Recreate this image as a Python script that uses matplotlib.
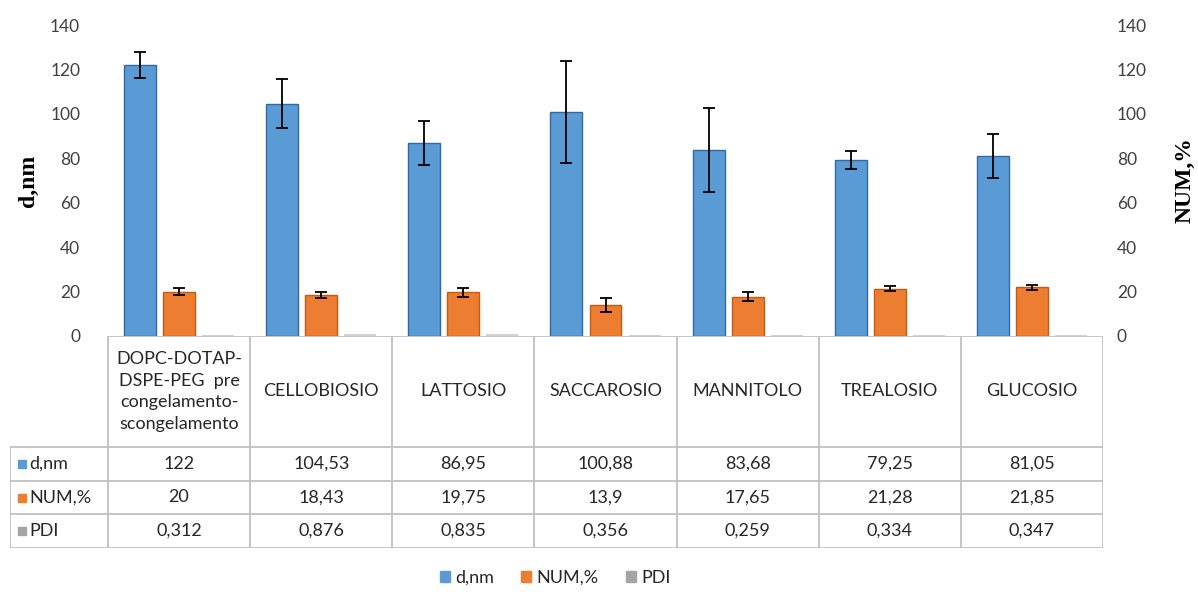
import matplotlib.pyplot as plt
from matplotlib.patches import Rectangle
import numpy as np

# data
categories = ["DOPC-DOTAP-\nDSPE-PEG  pre\ncongelamento-\nscongelamento",
              "CELLOBIOSIO", "LATTOSIO", "SACCAROSIO", "MANNITOLO", "TREALOSIO", "GLUCOSIO"]
d_nm = [122, 104.53, 86.95, 100.88, 83.68, 79.25, 81.05]
d_nm_err = [6, 11, 10, 23, 19, 4, 10]
num_pct = [20, 18.43, 19.75, 13.9, 17.65, 21.28, 21.85]
num_pct_err = [1.5, 1.3, 2, 3, 2, 1.2, 1]
pdi = [0.312, 0.876, 0.835, 0.356, 0.259, 0.334, 0.347]

d_nm_txt = ["122", "104,53", "86,95", "100,88", "83,68", "79,25", "81,05"]
num_txt = ["20", "18,43", "19,75", "13,9", "17,65", "21,28", "21,85"]
pdi_txt = ["0,312", "0,876", "0,835", "0,356", "0,259", "0,334", "0,347"]

blue = "#5b9bd5"
orange = "#ed7d31"
grey = "#a5a5a5"
line_col = "#c0c0c0"

plt.rcParams['font.family'] = ['Lato', 'DejaVu Sans']

W, H = 1198, 592
fig = plt.figure(figsize=(W / 100, H / 100), dpi=100)

# chart area in pixels
x0, x1 = 108, 1103
ytop, ybot = 25, 336
ax = fig.add_axes([x0 / W, 1 - ybot / H, (x1 - x0) / W, (ybot - ytop) / H])
n = len(categories)
x = np.arange(n) + 0.5
bw = 0.225
off = 0.275

ax.bar(x - off, d_nm, bw, color=blue, edgecolor="#2f6aa8", linewidth=1.0, zorder=2)
ax.bar(x, num_pct, bw, color=orange, edgecolor="#c55a11", linewidth=1.0, zorder=2)
ax.bar(x + off, pdi, bw, color=grey, linewidth=0, alpha=0.5, zorder=2)
ax.errorbar(x - off, d_nm, yerr=d_nm_err, fmt="none", ecolor="black",
            elinewidth=1.3, capsize=4.5, capthick=1.3, zorder=3)
ax.errorbar(x, num_pct, yerr=num_pct_err, fmt="none", ecolor="black",
            elinewidth=1.3, capsize=4.5, capthick=1.3, zorder=3)

ax.set_xlim(0, n)
ax.set_ylim(0, 140)
ax.set_yticks(range(0, 141, 20))
ax.set_xticks([])
for s in ax.spines.values():
    s.set_visible(False)
ax.tick_params(axis="y", length=0, labelsize=12.5, colors="#404040", pad=20)
ax.set_ylabel("d,nm", family="Liberation Serif", fontweight="bold", fontsize=17,
              labelpad=8)

ax2 = ax.twinx()
ax2.set_ylim(0, 140)
ax2.set_yticks(range(0, 141, 20))
for s in ax2.spines.values():
    s.set_visible(False)
ax2.tick_params(axis="y", length=0, labelsize=12.5, colors="#404040", pad=10)
ax2.set_ylabel("NUM,%", family="Liberation Serif", fontweight="bold", fontsize=17,
               labelpad=20)

# data table below the chart
tl = 10
tb = 548
tax = fig.add_axes([tl / W, 1 - tb / H, (x1 - tl) / W, (tb - ybot) / H])
lc = (x0 - tl) / ((x1 - x0) / n)
tax.set_xlim(-lc, n)
tax.set_ylim(tb - ybot, 0)
tax.axis("off")

rows_y = [0, 111, 145, 178, 212]
tax.plot([0, n], [0, 0], color=line_col, lw=1.3)
for yy in rows_y[1:]:
    tax.plot([-lc, n], [yy, yy], color=line_col, lw=1.3)
for i in range(n + 1):
    tax.plot([i, i], [0, rows_y[-1]], color=line_col, lw=1.3)
tax.plot([-lc, -lc], [rows_y[1], rows_y[-1]], color=line_col, lw=1.3)

for i, c in enumerate(categories):
    if "\n" in c:
        tax.text(i + 0.5, 55.5, c, ha="center", va="center", fontsize=13,
                 color="#262626", linespacing=1.45)
    else:
        tax.text(i + 0.5, 55.5, c, ha="center", va="center", fontsize=13,
                 color="#262626")

row_vals = [d_nm_txt, num_txt, pdi_txt]
row_names = ["d,nm", "NUM,%", "PDI"]
row_cols = [blue, orange, grey]
key_w = 8 / ((x1 - x0) / n)
for r in range(3):
    yc = (rows_y[r + 1] + rows_y[r + 2]) / 2
    for i, v in enumerate(row_vals[r]):
        tax.text(i + 0.5, yc, v, ha="center", va="center", fontsize=13, color="#262626")
    tax.add_patch(Rectangle((-lc + 8 / 142.1, yc - 4), key_w, 8, color=row_cols[r]))
    tax.text(-lc + 19 / 142.1, yc, row_names[r], ha="left", va="center",
             fontsize=13, color="#262626")

# legend
handles = [Rectangle((0, 0), 1, 1, color=c) for c in row_cols]
fig.legend(handles, row_names, loc="center", bbox_to_anchor=(555 / W, 1 - 578 / H),
           ncol=3, frameon=False, fontsize=13, handlelength=0.55, handleheight=0.55,
           handletextpad=0.3, columnspacing=1.5, labelcolor="#262626")

fig.savefig("out.png", dpi=100)
